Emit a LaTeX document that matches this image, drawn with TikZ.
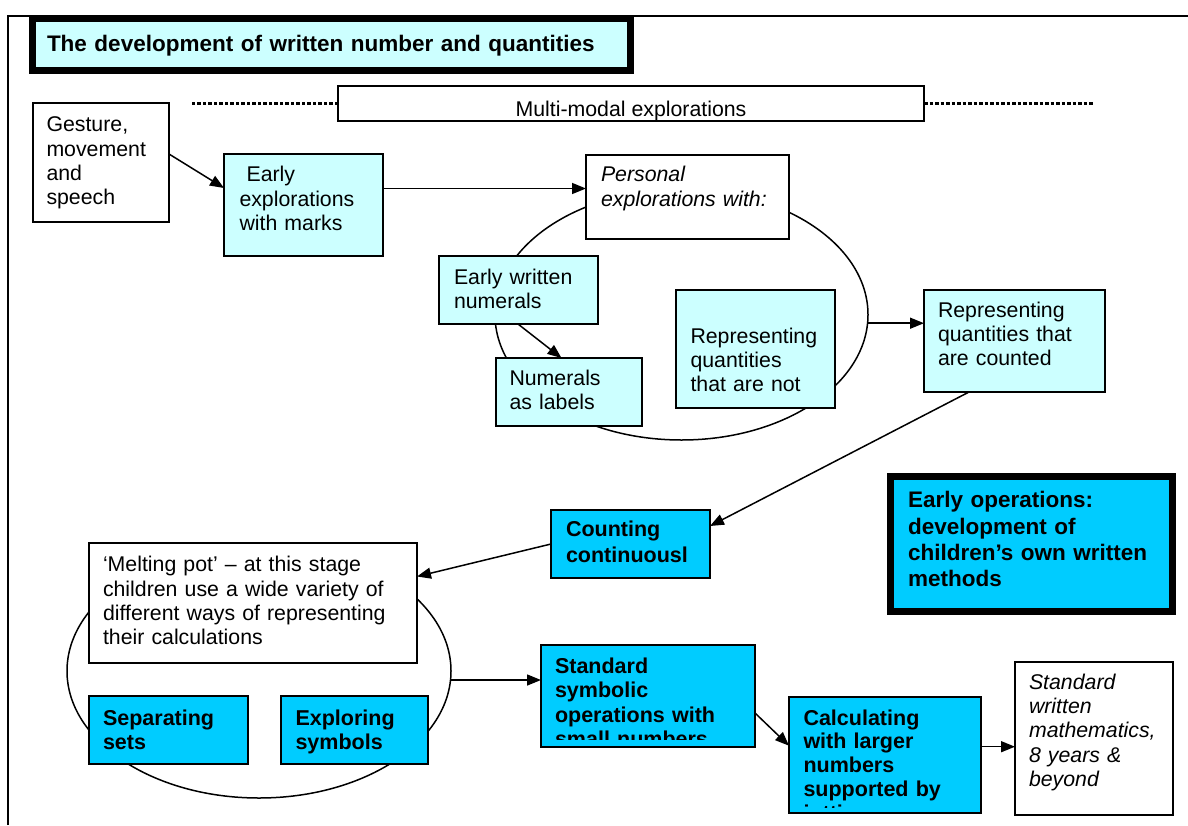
\documentclass[tikz,border=0pt]{standalone}
\usepackage{fontspec}
\setmainfont{Liberation Sans}
\usetikzlibrary{arrows.meta,shapes.geometric}
\definecolor{lcyan}{HTML}{CCFFFF}
\definecolor{bcyan}{HTML}{00CCFF}
\tikzset{
  bx/.style={draw=black, line width=1.5pt, anchor=north west, inner sep=0pt, outer sep=0pt},
  thickbx/.style={draw=black, line width=7pt, anchor=north west, inner sep=0pt, outer sep=0pt},
  txt/.style={anchor=base west, inner sep=0pt, outer sep=0pt, text width=330pt, align=left, font=\fontsize{21.3}{24.3}\selectfont},
  itxt/.style={txt, font=\fontsize{21.3}{24.4}\selectfont\itshape},
  btxt/.style={txt, font=\fontsize{21.5}{24.3}\selectfont\bfseries},
  arr/.style={line width=1.5pt, -{Triangle[length=14pt,width=11pt]}},
  dotline/.style={line width=3.5pt, dash pattern=on 3.5pt off 2pt},
  loopshape/.style={ellipse, draw=black, line width=1.5pt, inner sep=0pt, outer sep=0pt},
}
\newcommand\bxat[6]{\node[bx, fill=#6, minimum width={#4-#2}, minimum height={#5-#3}] (#1) at (#2,#3) {};}
\begin{document}
\begin{tikzpicture}[x=1pt,y=-1pt]
\useasboundingbox (0,0) rectangle (1188,825);
% frame
\draw[line width=2pt] (8,825) -- (8,16) -- (1188,16);
% ellipses
\node[loopshape, minimum width=373pt, minimum height=250.6pt] (e1) at (681.5,314.7) {};
\node[loopshape, minimum width=384pt, minimum height=254pt] (e2) at (259,671) {};
% title
\node[thickbx, fill=lcyan, minimum width=598, minimum height=52] (title) at (32.5,18.5) {};
\node[txt, text width=580pt, font=\fontsize{22.5}{26}\selectfont\bfseries] (titleT) at (47,51.5) {The development of written number and quantities};
% multi-modal
\bxat{mm}{338}{86}{924}{121}{white}
\begin{scope}
\clip (mm.north west) rectangle (mm.south east);
\node[anchor=base, inner sep=0pt, font=\fontsize{21.3}{24.3}\selectfont] (mmT) at (631,116.5) {Multi-modal explorations};
\end{scope}
\draw[dotline] (mm.west) -- ++(-146,0);
\draw[dotline] (mm.east) -- ++(170,0);
% boxes
\bxat{gest}{33}{103}{169}{222}{white}
\bxat{early}{224}{154}{383}{256}{lcyan}
\bxat{pers}{586}{155}{789}{239}{white}
\bxat{ewn}{439}{256}{598}{324}{lcyan}
\bxat{nal}{496}{358}{642}{426}{lcyan}
\bxat{rnot}{676}{290}{835}{408}{lcyan}
\bxat{rcnt}{924}{290}{1105}{392}{lcyan}
\bxat{cnt}{551}{510}{710}{578}{bcyan}
\node[thickbx, fill=bcyan, minimum width=282, minimum height=135] (eops) at (890.5,476.5) {};
\bxat{melt}{89}{543}{417}{663}{white}
\bxat{sep}{89}{696}{248}{764}{bcyan}
\bxat{expl}{281}{696}{428}{764}{bcyan}
\bxat{ssym}{541}{645}{755}{747}{bcyan}
\bxat{calc}{789}{697}{981}{813}{bcyan}
\bxat{swm}{1015}{662}{1173}{815}{white}
% texts
\node[txt] (gestT) at (46.5,131.7) {Gesture,\\movement\\and\\speech};
\node[txt] (earlyT) at (239.5,181.7) {\ Early\\explorations\\with marks};
\node[itxt] (persT) at (601,181.7) {Personal\\explorations with:};
\node[txt] (ewnT) at (454,284) {Early written\\numerals};
\node[txt] (nalT) at (509.5,385) {Numerals\\as labels};
\node[txt] (rnotT) at (690.5,343.3) {Representing\\quantities\\that are not};
\node[txt] (rcntT) at (938,317.3) {Representing\\quantities that\\are counted};
\node[btxt, font=\fontsize{21.5}{25.6}\selectfont\bfseries] (cntT) at (566,536.7) {Counting\\continuousl};
\node[btxt, font=\fontsize{22.5}{26.3}\selectfont\bfseries] (eopsT) at (908,507.7) {Early operations:\\development of\\children’s own written\\methods};
\node[txt] (meltT) at (103,571.7) {‘Melting pot’ – at this stage\\children use a wide variety of\\different ways of representing\\their calculations};
\node[btxt, font=\fontsize{21.5}{23.7}\selectfont\bfseries] (sepT) at (103,725.7) {Separating\\sets};
\node[btxt, font=\fontsize{21.5}{23.7}\selectfont\bfseries] (explT) at (295.5,725.7) {Exploring\\symbols};
\begin{scope}
\clip (ssym.north west) rectangle ([yshift=8pt]ssym.south east);
\node[btxt, font=\fontsize{21.5}{24.5}\selectfont\bfseries] (ssymT) at (555,673) {Standard\\symbolic\\operations with\\small numbers};
\end{scope}
\begin{scope}
\clip (calc.north west) rectangle ([yshift=6pt]calc.south east);
\node[btxt, font=\fontsize{21.5}{23.9}\selectfont\bfseries] (calcT) at (803.5,725) {Calculating\\with larger\\numbers\\supported by\\jottings};
\end{scope}
\node[itxt] (swmT) at (1029,689) {Standard\\written\\mathematics,\\8 years \&\\beyond};
% connectors
\draw[arr] ([yshift=8.5pt]gest.east) -- ([yshift=17pt]early.west);
\draw[arr] ([yshift=16.5pt]early.east) -- ([yshift=8.5pt]pers.west);
\draw[arr] ([xshift=-0.5pt]ewn.south) -- ([xshift=-7.5pt]nal.north);
\draw[arr] ([yshift=-8.5pt]e1.east) -- ([yshift=-8.5pt]e1.east -| rcnt.west);
\draw[arr] ([xshift=-45.5pt]rcnt.south) -- ([yshift=-16pt]cnt.north east);
\draw[arr] (cnt.west) -- ([yshift=26.5pt]melt.east);
\draw[arr] ([yshift=-9pt]e2.east) -- ([yshift=-9pt]e2.east -| ssym.west);
\draw[arr] ([yshift=-17pt]ssym.east) -- ([yshift=9.3pt]calc.west);
\draw[arr] ([yshift=8.3pt]calc.east) -- ([yshift=8.3pt]calc.east -| swm.west);
\end{tikzpicture}
\end{document}
